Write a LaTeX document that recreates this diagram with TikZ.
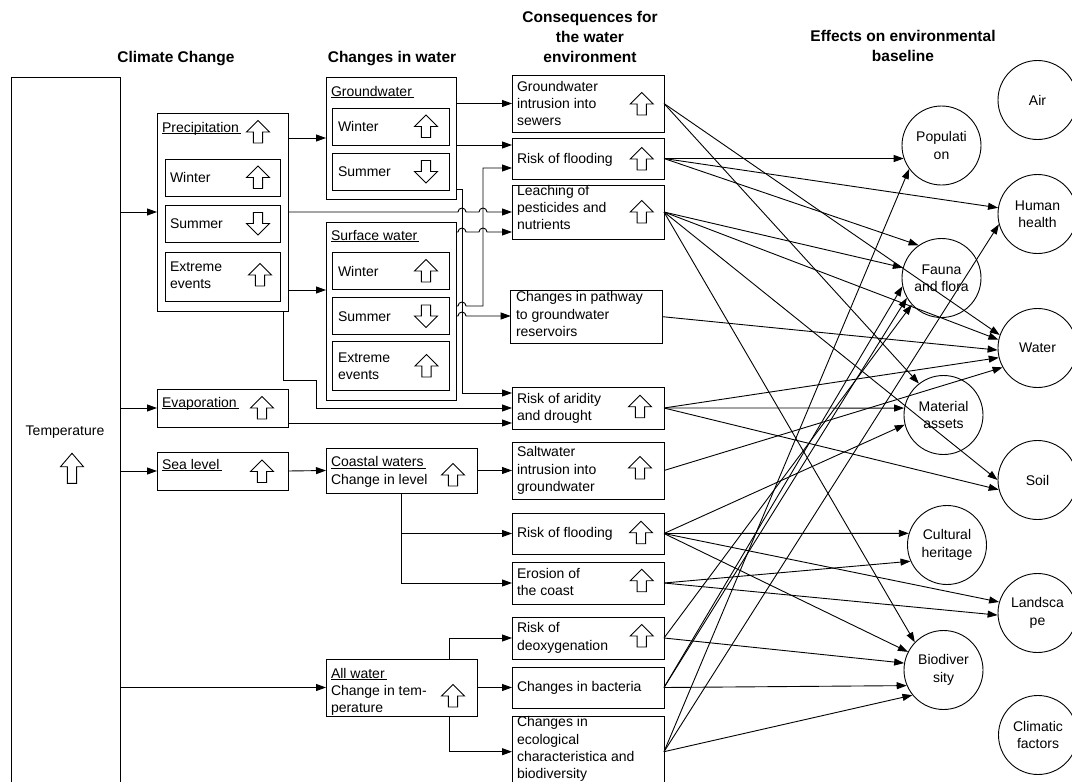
\documentclass[tikz,border=0pt]{standalone}
\usepackage{fontspec}
\setmainfont{Liberation Sans}
\usetikzlibrary{arrows.meta}
\newsavebox\ulbox
\newcommand{\ulw}[1]{\sbox\ulbox{#1\kern2pt}\rlap{\rule[-1.6pt]{\wd\ulbox}{0.7pt}}\usebox\ulbox}

% multi-line labels are placed by the baseline of their last line
\tikzset{
  lw/.style={line width=0.9pt},
  bx/.style n args={2}{draw, lw, inner sep=0pt, outer sep=0pt, minimum width=#1pt, minimum height=#2pt},
  lbl/.style={inner sep=0pt, outer sep=0pt, anchor=base west, align=left, font=\fontsize{14}{17.3}\selectfont},
  head/.style={inner sep=0pt, anchor=base, align=center, font=\fontsize{15.5}{20}\selectfont\bfseries},
  circ/.style={draw, lw, circle, minimum size=79pt, inner sep=0pt, align=center, font=\fontsize{14}{17.3}\selectfont},
  con/.style={lw, -{Triangle[length=10pt,width=7pt]}},
  wire/.style={lw},
  uparr/.pic={\draw[lw, fill=white] (0,-11.5) -- (11.5,0) -- (4.6,0) -- (4.6,11) -- (-4.6,11) -- (-4.6,0) -- (-11.5,0) -- cycle;},
  downarr/.pic={\draw[lw, fill=white] (0,11.5) -- (11.5,0) -- (4.6,0) -- (4.6,-11) -- (-4.6,-11) -- (-4.6,0) -- (-11.5,0) -- cycle;},
  tallup/.pic={\draw[lw, fill=white] (0,-15) -- (11.5,-1.6) -- (4.6,-1.6) -- (4.6,15) -- (-4.6,15) -- (-4.6,-1.6) -- (-11.5,-1.6) -- cycle;},
}

\begin{document}
\begin{tikzpicture}[x=1pt,y=-1pt]
\useasboundingbox (0,0) rectangle (1072,782);
\clip (0,0) rectangle (1072,782);

% column headings
\node[head] (h1) at (176,62) {Climate Change};
\node[head] (h2) at (392,62) {Changes in water};
\node[head] (h3) at (590,62.5) {Consequences for\\the water\\environment};
\node[head] (h4) at (903,61.5) {Effects on environmental\\baseline};

% temperature
\node[bx={109}{723}] (temp) at (65.5,438.5) {};
\node[lbl, anchor=base] (ttemp) at (65,435) {Temperature};
\pic at (72,468.3) {tallup};

% precipitation
\node[bx={131}{198}] (pr) at (222.5,212) {};
\node[lbl] (tpr) at (162,132) {\ulw{Precipitation}};
\pic at (258,132) {uparr};
\node[bx={115}{37}] (prw) at (222.5,177.5) {};
\node[lbl] (tprw) at (170,182.5) {Winter};
\pic at (258,177.5) {uparr};
\node[bx={115}{37}] (prs) at (222.5,223.5) {};
\node[lbl] (tprs) at (170,228.5) {Summer};
\pic at (258,223.5) {downarr};
\node[bx={115}{49}] (pre) at (222.5,276.5) {};
\node[lbl] (tpre) at (170,288.8) {Extreme\\events};
\pic at (260,275) {uparr};

% groundwater
\node[bx={130}{122}] (gw) at (391,138) {};
\node[lbl] (tgw) at (331,96) {\ulw{Groundwater}};
\node[bx={117}{37}] (gww) at (390.5,126.5) {};
\node[lbl] (tgww) at (338,131.5) {Winter};
\pic at (426,126.5) {uparr};
\node[bx={117}{37}] (gws) at (390.5,171.5) {};
\node[lbl] (tgws) at (338,176.5) {Summer};
\pic at (426,171.5) {downarr};

% surface water
\node[bx={130}{178}] (sw) at (391,311) {};
\node[lbl] (tsw) at (331,240) {\ulw{Surface water}};
\node[bx={117}{37}] (sww) at (390.5,271) {};
\node[lbl] (tsww) at (338,276) {Winter};
\pic at (426,271) {uparr};
\node[bx={117}{37}] (sws) at (390.5,316) {};
\node[lbl] (tsws) at (338,321) {Summer};
\pic at (426,316) {downarr};
\node[bx={117}{48.5}] (swe) at (390.5,366) {};
\node[lbl] (tswe) at (338,379.3) {Extreme\\events};
\pic at (426.5,366) {uparr};

% evaporation, sea level
\node[bx={131}{38}] (ev) at (222.5,408) {};
\node[lbl] (tev) at (162,407) {\ulw{Evaporation}};
\pic at (262,408) {uparr};
\node[bx={131}{38}] (sl) at (222.5,471) {};
\node[lbl] (tsl) at (162,469.5) {\ulw{Sea level}};
\pic at (262,471.5) {uparr};

% coastal waters, all water
\node[bx={151}{45}] (cw) at (401.5,470.5) {};
\node[lbl] (tcw) at (331,484) {\ulw{Coastal waters}\\Change in level};
\pic at (453,475) {uparr};
\node[bx={151}{57}] (aw) at (401.5,687.5) {};
\node[lbl] (taw) at (331,712.6) {\ulw{All water}\\Change in tem-\\perature};
\pic at (453,696) {uparr};

% consequences
\node[bx={152}{57}] (sew) at (588,103.5) {};
\node[lbl] (tsew) at (517,125.6) {Groundwater\\intrusion into\\sewers};
\pic at (641.7,104) {uparr};
\node[bx={152}{41}] (fl1) at (588,158.5) {};
\node[lbl] (tfl1) at (517,163.3) {Risk of flooding};
\pic at (641.7,159) {uparr};
\node[bx={152}{54}] (leach) at (588,212) {};
\node[lbl] (tleach) at (517,229.6) {Leaching of\\pesticides and\\nutrients};
\pic at (641.7,212) {uparr};
\node[bx={152}{53.3}] (path) at (586.7,316.7) {};
\node[lbl] (tpath) at (516,336.3) {Changes in pathway\\to groundwater\\reservoirs};
\node[bx={152}{42}] (arid) at (588,408) {};
\node[lbl] (tarid) at (517,420.6) {Risk of aridity\\and drought};
\pic at (640,406.7) {uparr};
\node[bx={152}{57}] (salt) at (588,470.5) {};
\node[lbl] (tsalt) at (517,491.3) {Saltwater\\intrusion into\\groundwater};
\pic at (640,468) {uparr};
\node[bx={152}{41}] (fl2) at (588,533.5) {};
\node[lbl] (tfl2) at (517,537.7) {Risk of flooding};
\pic at (641,532.7) {uparr};
\node[bx={152}{42}] (ero) at (588,583) {};
\node[lbl] (tero) at (517,595.3) {Erosion of\\the coast};
\pic at (641.7,580.7) {uparr};
\node[bx={152}{42}] (deox) at (588,638) {};
\node[lbl] (tdeox) at (517,650) {Risk of\\deoxygenation};
\pic at (641.7,636) {uparr};
\node[bx={152}{41}] (bact) at (588,687.5) {};
\node[lbl] (tbact) at (517,691) {Changes in bacteria};
\node[bx={152}{70}] (eco) at (588,751.7) {};
\node[lbl] (teco) at (517,778.6) {Changes in\\ecological\\characteristica and\\biodiversity};

% environmental baseline
\node[circ] (air) at (1037.5,100) {Air};
\node[circ] (pop) at (941.5,145.5) {Populati\\on};
\node[circ] (hh) at (1037.5,214) {Human\\health};
\node[circ] (ff) at (941.5,278) {Fauna\\and flora};
\node[circ] (wat) at (1037.5,348) {Water};
\node[circ] (mat) at (943.5,415) {Material\\assets};
\node[circ] (soil) at (1037.5,480) {Soil};
\node[circ] (cult) at (947,545) {Cultural\\heritage};
\node[circ] (land) at (1037.5,613) {Landsca\\pe};
\node[circ] (bio) at (943.5,670) {Biodiver\\sity};
\node[circ] (clim) at (1038,735) {Climatic\\factors};

% climate change links
\draw[con] (temp.east |- pr.west) -- (pr.west);
\draw[con] (temp.east |- ev.west) -- (ev.west);
\draw[con] (temp.east |- sl.west) -- (sl.west);
\draw[con] (temp.east |- aw.west) -- (aw.west);

\draw[con] (pr.east |- gw.west) -- (gw.west);
\draw[con] (pr.east |- 0,290) -- (sw.west |- 0,290);
\draw[con] (pr.east) -- (458,212) arc[start angle=180,end angle=360,radius=4]
  -- (479,212) arc[start angle=180,end angle=360,radius=4] -- (leach.west);
\draw[con] (pr.south -| 283,0) -- (283,380) -- (316,380) -- (316,408) -- (arid.west);
\draw[con] (ev.east |- 0,423) -- (arid.west |- 0,423);

% changes in water links
\draw[con] (gw.east |- sew.west) -- (sew.west);
\draw[con] (gw.east |- 0,145) -- (fl1.west |- 0,145);
\draw[con] (gw.east |- 0,189) -- (462,189) -- (462,393) -- (arid.west |- 0,393);
\draw[con] (sw.east |- 0,306) -- (458,306) arc[start angle=180,end angle=360,radius=4]
  -- (483,306) -- (483,168) -- (fl1.west |- 0,168);
\draw[con] (sw.east |- 0,232) -- (458,232) arc[start angle=180,end angle=360,radius=4]
  -- (479,232) arc[start angle=180,end angle=360,radius=4] -- (leach.west |- 0,232);
\draw[con] (sw.east |- 0,316) -- (458,316) arc[start angle=180,end angle=360,radius=4]
  -- (path.west |- 0,316);
\draw[con] (sl.east) -- (cw.west);
\draw[con] (cw.east) -- (salt.west);
\draw[con] (cw.south -| 401,0) |- (fl2.west);
\draw[con] (cw.south -| 401,0) |- (ero.west);
\draw[con] (aw.north -| 449,0) |- (deox.west);
\draw[con] (aw.east) -- (bact.west);
\draw[con] (aw.south -| 449,0) |- (eco.west);

% consequences to environmental baseline
\draw[con] (sew.east) -- (wat.161.6);
\draw[con] (sew.east) -- (mat.128);
\draw[con] (fl1.east) -- (pop.199);
\draw[con] (fl1.east) -- (hh.171.5);
\draw[con] (fl1.east) -- (ff.125);
\draw[con] (leach.east) -- (ff.165.6);
\draw[con] (leach.east) -- (wat.168.7);
\draw[con] (leach.east) -- (soil.180);
\draw[con] (leach.east) -- (bio.136);
\draw[con] (path.east) -- (wat.183);
\draw[con] (arid.east) -- (wat.194);
\draw[con] (arid.east) -- (mat.170);
\draw[con] (arid.east) -- (soil.194);
\draw[con] (salt.east) -- (wat.209);
\draw[con] (fl2.east) -- (mat.194);
\draw[con] (fl2.east) -- (cult.163);
\draw[con] (fl2.east) -- (land.164);
\draw[con] (fl2.east) -- (bio.153);
\draw[con] (ero.east) -- (cult.204);
\draw[con] (ero.east) -- (land.183);
\draw[con] (deox.east) -- (bio.170);
\draw[con] (deox.east) -- (ff.222.8);
\draw[con] (bact.east) -- (bio.203);
\draw[con] (bact.east) -- (ff.192);
\draw[con] (bact.east) -- (ff.210.6);
\draw[con] (eco.east) -- (bio.219);
\draw[con] (eco.east) -- (pop.216);
\draw[con] (eco.east) -- (hh.195);
\end{tikzpicture}
\end{document}
